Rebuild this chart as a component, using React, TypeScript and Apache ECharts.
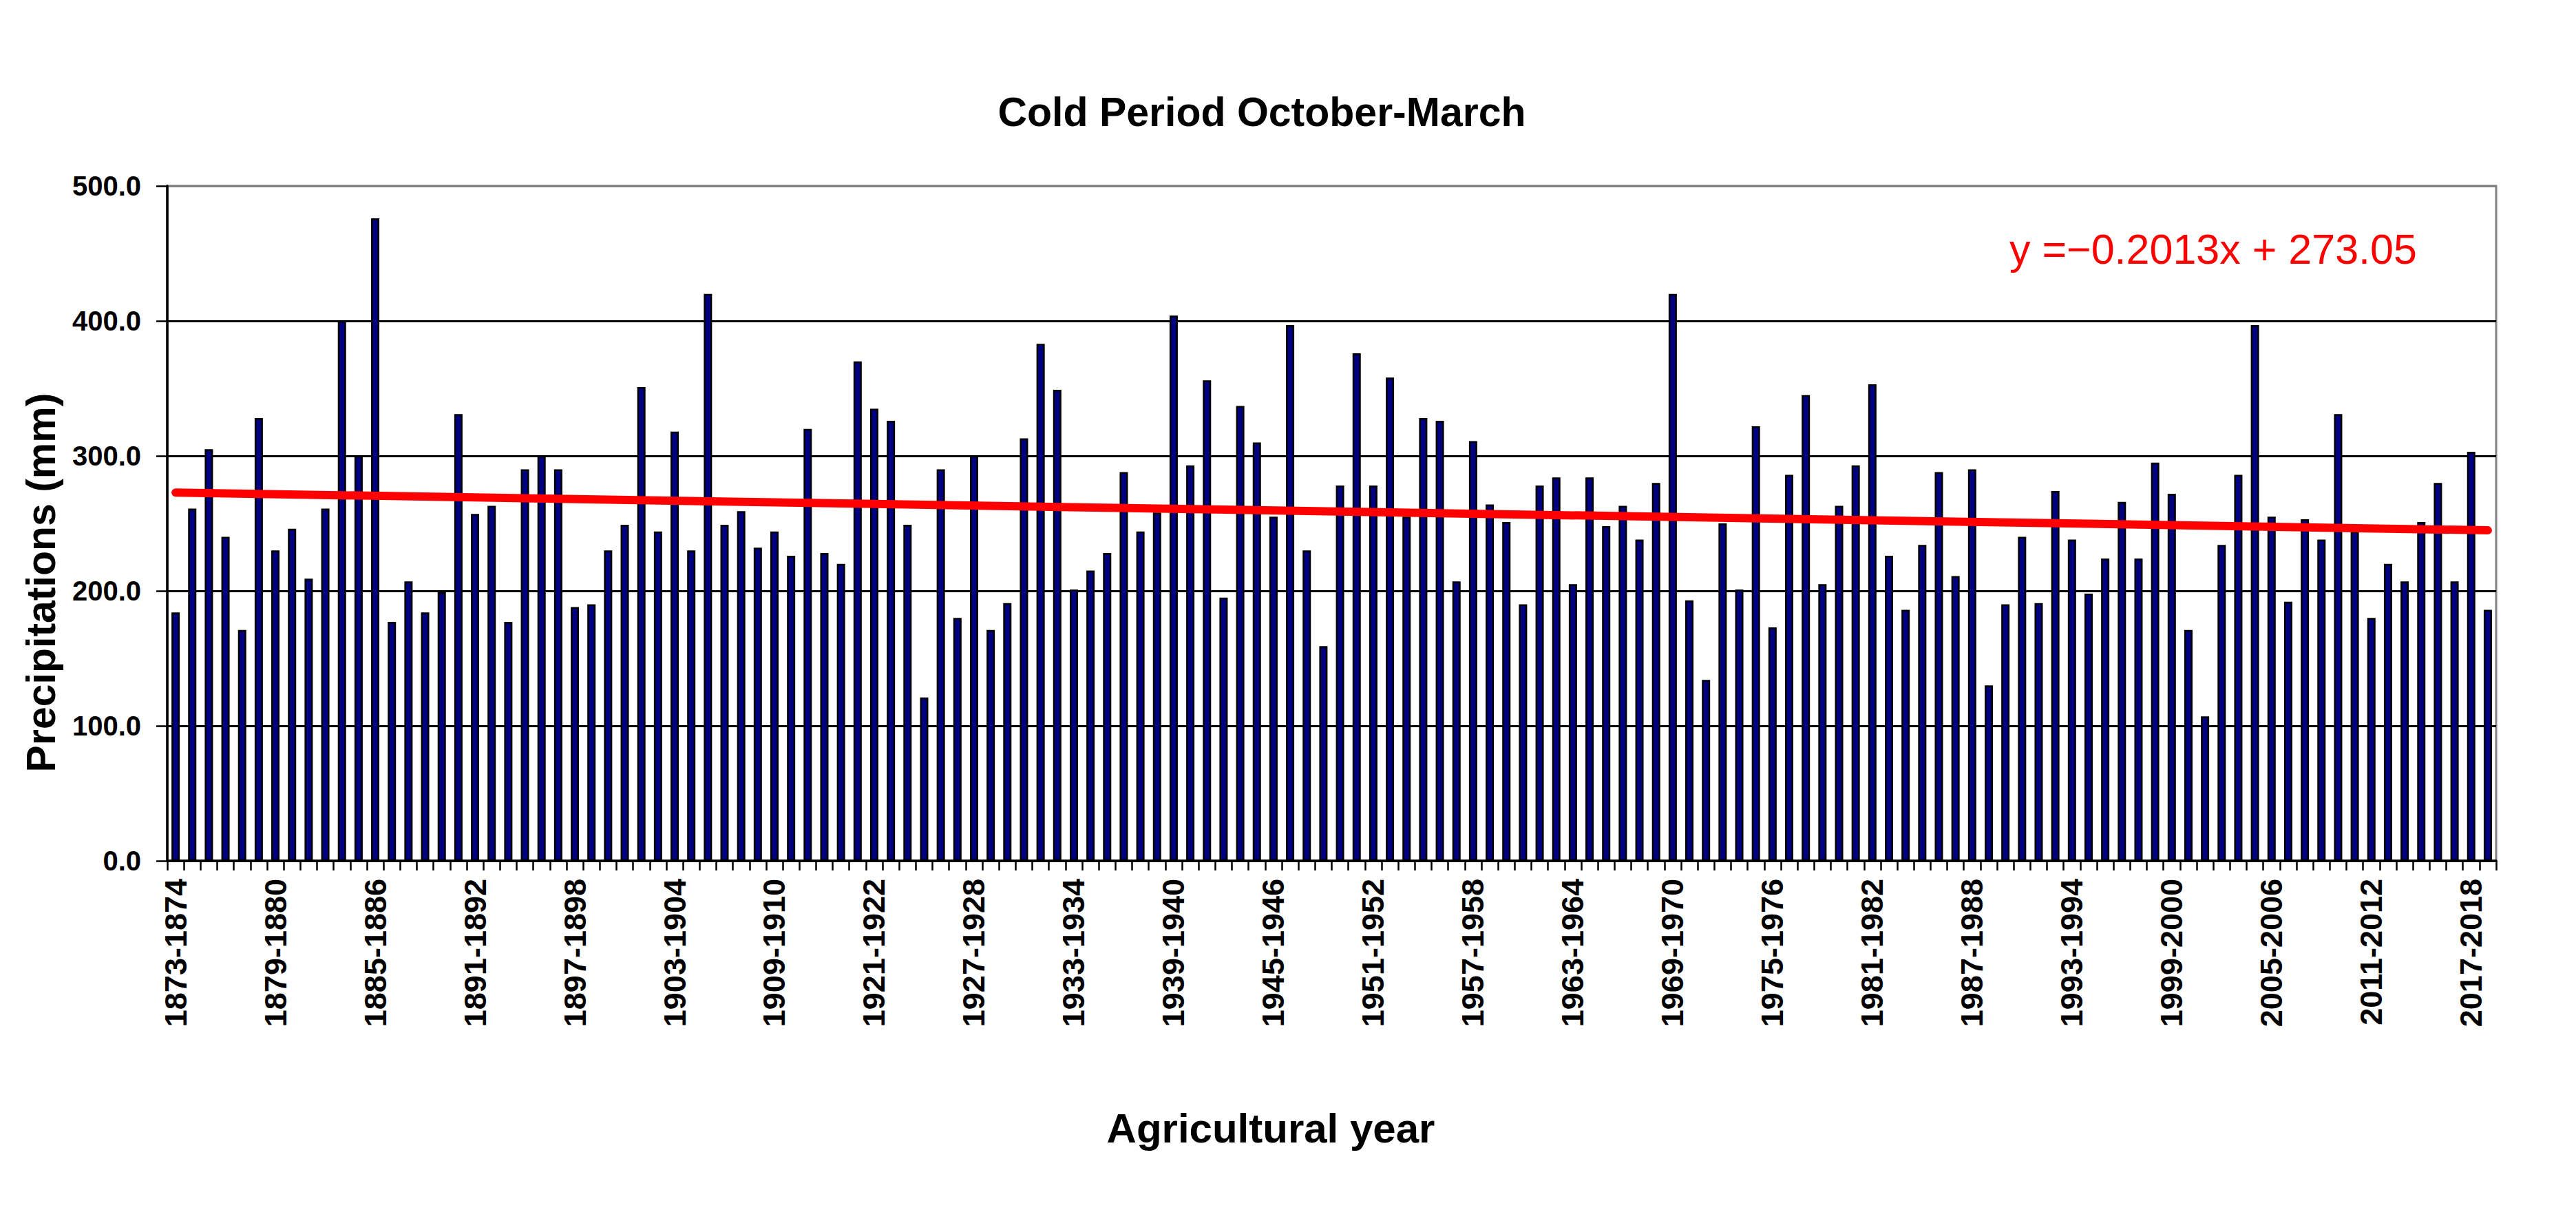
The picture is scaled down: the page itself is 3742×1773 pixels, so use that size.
import React, { useEffect, useRef } from "react";
import * as echarts from "echarts";

// Agricultural years (start year) – gap between 1914-1915 and 1921-1922
const yearRanges: number[][] = [
  [1873, 1914],
  [1921, 2018],
];

// Precipitation (mm), cold period October-March
const precipitation: number[] = [
  184, 261, 305, 240, 171, 328, 230, 246, 209, 261, 400, 300, 476, 177, 207, 184, 199, 331, 257, 263, 177, 290, 300, 290,
  188, 190, 230, 249, 351, 244, 318, 230, 420, 249, 259, 232, 244, 226, 320, 228, 220, 370, 335, 326, 249, 121, 290, 180,
  300, 171, 191, 313, 383, 349, 201, 215, 228, 288, 244, 258, 404, 293, 356, 195, 337, 310, 255, 397, 230, 159, 278, 376,
  278, 358, 255, 328, 326, 207, 311, 264, 251, 190, 278, 284, 205, 284, 248, 263, 238, 280, 420, 193, 134, 250, 201, 322,
  173, 286, 345, 205, 263, 293, 353, 226, 186, 234, 288, 211, 290, 130, 190, 240, 191, 274, 238, 198, 224, 266, 224, 295,
  272, 171, 107, 234, 286, 397, 255, 192, 253, 238, 331, 244, 180, 220, 207, 251, 280, 207, 303, 186,
];

// Linear trend end values (y = -0.2013x + 273.05 at first and last year)
const trendEnds: number[] = [272.85, 244.87];
const equationText = "y =\u22120.2013x + 273.05";

const yTickLabels = [0, 100, 200, 300, 400, 500];

const categories: string[] = [];
yearRanges.forEach(([a, b]) => {
  for (let y = a; y <= b; y++) categories.push(`${y}-${y + 1}`);
});

const FONT = '"Liberation Sans", Arial, sans-serif';

export default function App() {
  const ref = useRef<HTMLDivElement>(null);
  useEffect(() => {
    if (!ref.current) return;
    const chart = echarts.init(ref.current, undefined, { renderer: "svg" });
    const option = {
      animation: false,
      backgroundColor: "#ffffff",
      grid: {
        left: 243,
        right: 116,
        top: 270,
        bottom: 523,
        show: true,
        borderColor: "#808080",
        borderWidth: 3,
        backgroundColor: "transparent",
      },
      xAxis: {
        type: "category",
        data: categories,
        boundaryGap: true,
        axisLine: { lineStyle: { color: "#000", width: 3.5 } },
        axisTick: { show: true, interval: 0, length: 14, lineStyle: { color: "#000", width: 2.5 } },
        axisLabel: {
          interval: 5,
          rotate: 90,
          margin: 26,
          color: "#000",
          fontFamily: FONT,
          fontWeight: "bold",
          fontSize: 45,
        },
        splitLine: { show: false },
      },
      yAxis: {
        type: "value",
        min: yTickLabels[0],
        max: yTickLabels[yTickLabels.length - 1],
        interval: 100,
        axisLine: { show: true, lineStyle: { color: "#000", width: 3.5 } },
        axisTick: { show: true, length: 16, lineStyle: { color: "#000", width: 2.5 } },
        axisLabel: {
          formatter: (v: number) => v.toFixed(1),
          margin: 38,
          color: "#000",
          fontFamily: FONT,
          fontWeight: "bold",
          fontSize: 40,
        },
        splitLine: {
          show: true,
          lineStyle: { color: ["#000", "#000", "#000", "#000", "#000", "#808080"], width: 3 },
        },
      },
      series: [
        {
          type: "bar",
          data: precipitation,
          barWidth: 12,
          itemStyle: { color: "#000080", borderColor: "#000", borderWidth: 2.5 },
        },
        {
          type: "line",
          data: [
            [0, trendEnds[0]],
            [categories.length - 1, trendEnds[1]],
          ],
          symbol: "none",
          z: 5,
          lineStyle: { color: "#FF0000", width: 12, cap: "round" },
        },
      ],
      graphic: [
        {
          type: "text",
          x: 1833,
          y: 163,
          style: {
            text: "Cold Period October-March",
            font: `bold 59px ${FONT}`,
            fill: "#000",
            textAlign: "center",
            textVerticalAlign: "middle",
            align: "center",
            verticalAlign: "middle",
          },
        },
        {
          type: "text",
          x: 1846,
          y: 1638,
          style: {
            text: "Agricultural year",
            font: `bold 60px ${FONT}`,
            fill: "#000",
            textAlign: "center",
            textVerticalAlign: "middle",
            align: "center",
            verticalAlign: "middle",
          },
        },
        {
          type: "text",
          x: 60,
          y: 846,
          rotation: Math.PI / 2,
          style: {
            text: "Precipitations (mm)",
            font: `bold 59px ${FONT}`,
            fill: "#000",
            textAlign: "center",
            textVerticalAlign: "middle",
            align: "center",
            verticalAlign: "middle",
          },
        },
        {
          type: "text",
          x: 2919,
          y: 362,
          style: {
            text: equationText,
            font: `61px ${FONT}`,
            fill: "#FF0000",
            textAlign: "left",
            textVerticalAlign: "middle",
            align: "left",
            verticalAlign: "middle",
          },
        },
      ],
    };
    chart.setOption(option as any);
    return () => chart.dispose();
  }, []);
  return (
    <div
      ref={ref}
      style={{ position: "fixed", left: 0, top: 0, width: 3742, height: 1773, background: "#fff" }}
    />
  );
}
